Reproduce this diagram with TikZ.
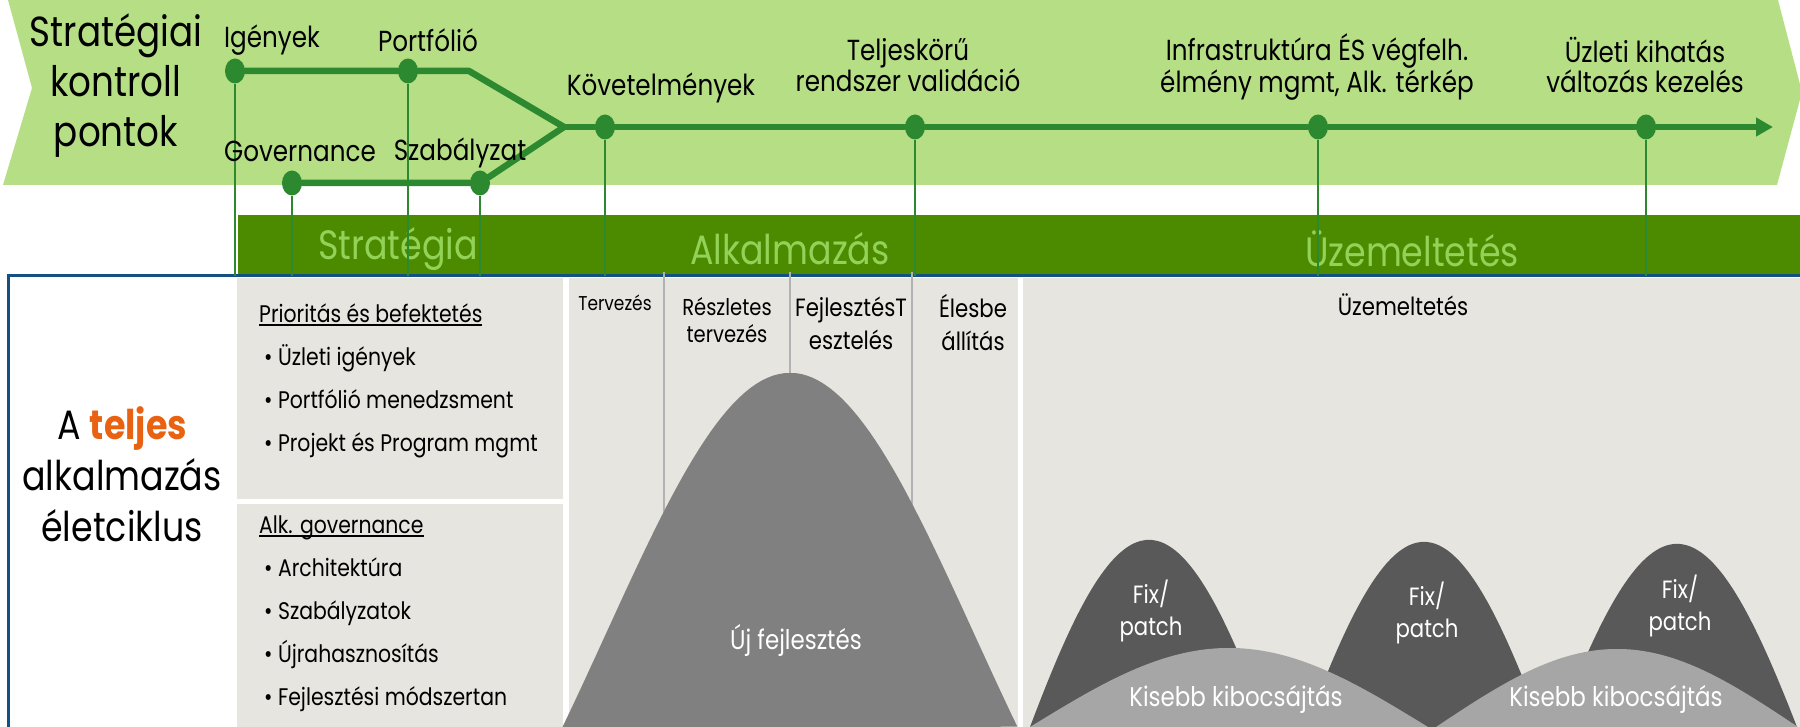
\documentclass[tikz,border=0pt]{standalone}
\usepackage{fontspec}
\setmainfont{Poppins}[FakeStretch=0.85]
\usetikzlibrary{arrows.meta,shapes.geometric}
\definecolor{bandlight}{RGB}{181,222,133}
\definecolor{tlgreen}{RGB}{45,137,47}
\definecolor{banddark}{RGB}{76,139,0}
\definecolor{bandtext}{RGB}{146,210,88}
\definecolor{blueln}{RGB}{20,80,130}
\definecolor{panelgray}{RGB}{230,229,224}
\definecolor{divgray}{RGB}{178,178,178}
\definecolor{bigbell}{RGB}{128,128,128}
\definecolor{darkbell}{RGB}{89,89,89}
\definecolor{lightbell}{RGB}{166,166,166}
\definecolor{orangeT}{RGB}{232,98,18}
\newcommand\myul[1]{\setbox0\hbox{#1}\rlap{\rule[-4pt]{\wd0}{2pt}}\box0}
\newcommand\mybell[5]{%
  \pgfmathsetmacro\bellg{exp(-1/#5)}%
  \fill[#1] plot[domain=-1:1,samples=81] ({#2+#3*\x},{727-#4*(exp(-\x*\x/#5)-\bellg)/(1-\bellg)}) -- cycle;}
\begin{document}
\begin{tikzpicture}[x=1pt,y=-1pt,
  dot/.style={ellipse, fill=tlgreen, minimum width=20pt, minimum height=25pt, inner sep=0pt},
  tl/.style={draw=tlgreen, line width=6.5pt, line cap=round, line join=round},
  vl/.style={draw=tlgreen, line width=2.5pt},
  divider/.style={draw=divgray, line width=2.5pt},
  tlbl/.style={font=\fontsize{29}{30}\selectfont, align=center, inner sep=0pt},
  titlelbl/.style={font=\fontsize{42}{50}\selectfont, align=center, inner sep=0pt},
  bandlbl/.style={font=\fontsize{41}{42}\selectfont, text=bandtext, inner sep=0pt},
  listlbl/.style={font=\fontsize{24}{43}\selectfont, align=left, inner sep=0pt, anchor=north west},
  bigtxt/.style={font=\fontsize{41}{51}\selectfont, align=center, inner sep=0pt},
  phaselbl/.style={align=center, inner sep=0pt},
  belltxt/.style={font=\fontsize{25}{32}\selectfont, text=white, align=center, inner sep=0pt}]
\useasboundingbox (0,0) rectangle (1800,727);
\begin{scope}
\clip (0,0) rectangle (1800,727);
% top chevron band
\fill[bandlight] (8,0) -- (1778,0) -- (1802,92) -- (1777,185) -- (3,185) -- (32,88) -- cycle;
% dark phase band
\fill[banddark] (238,215) rectangle (1800,275);
\node[bandlbl] (strat) at (398,249) {Stratégia};
\node[bandlbl] (alk) at (790,249) {Alkalmazás};
\node[bandlbl] (uzem) at (1412,249) {Üzemeltetés};
% panels
\fill[panelgray] (237,278) rectangle (563,499);
\fill[panelgray] (237,504) rectangle (563,727);
\fill[panelgray] (569,278) rectangle (1018,727);
\fill[panelgray] (1023,278) rectangle (1800,727);
% blue frame
\draw[blueln, line width=3pt] (8.5,727) -- (8.5,276) -- (1800,276);
% dividers
\draw[divider] (664,272) -- (664,600);
\draw[divider] (790,272) -- (790,450);
\draw[divider] (912,272) -- (912,600);
% bells
\mybell{bigbell}{790}{227.5}{354}{1.31}
\mybell{darkbell}{1149}{119}{187}{3}
\mybell{darkbell}{1424}{118}{185}{3}
\mybell{darkbell}{1677}{120}{183}{3}
\mybell{lightbell}{1229}{199}{79}{2}
\mybell{lightbell}{1617}{181}{78}{2}
% dots
\node[dot] (igeny) at (235,71) {};
\node[dot] (portf) at (408,71) {};
\node[dot] (gov) at (292,183) {};
\node[dot] (szab) at (480,183) {};
\node[dot] (kovet) at (605,127) {};
\node[dot] (telj) at (915,127) {};
\node[dot] (infra) at (1318,127) {};
\node[dot] (uzl) at (1646,127) {};
\coordinate (bend) at (469,71);
\coordinate (merge) at (564,127);
\coordinate (tip) at (1773,127);
\coordinate (base) at (0,276);
% verticals
\foreach \n in {igeny,portf,gov,szab,kovet,telj,infra,uzl}
  \draw[vl] (\n.south) -- (\n |- base);
% timeline
\draw[tl] (igeny) -- (portf) -- (bend) -- (merge);
\draw[tl] (gov) -- (szab) -- (merge);
\draw[tl, -{Triangle[length=17pt,width=18pt]}] (merge) -- (kovet) -- (telj) -- (infra) -- (uzl) -- (tip);
% top labels
\node[titlelbl] (ltitle) at (116,86) {Stratégiai\\kontroll\\pontok};
\node[tlbl] (lig) at (272,40) {Igények};
\node[tlbl] (lport) at (428,40) {Portfólió};
\node[tlbl] (lgov) at (300,151) {Governance};
\node[tlbl] (lszab) at (460,153) {Szabályzat};
\node[tlbl] (lkov) at (661,88) {Követelmények};
\node[tlbl] (ltelj) at (908,65) {Teljeskörű\\rendszer validáció};
\node[tlbl] (linfra) at (1317,67) {Infrastruktúra ÉS végfelh.\\élmény mgmt, Alk. térkép};
\node[tlbl] (luzl) at (1645,65) {Üzleti kihatás\\változás kezelés};
% left title
\node[bigtxt] (lcycle) at (122,474) {A {\bfseries\color{orangeT}teljes}\\alkalmazás\\életciklus};
% panel lists
\node[listlbl] (p1) at (259,303.5) {\myul{Prioritás és befektetés}\\\hspace*{5pt}•~Üzleti igények\\\hspace*{5pt}•~Portfólió menedzsment\\\hspace*{5pt}•~Projekt és Program mgmt};
\node[listlbl] (p2) at (259,515.5) {\myul{Alk. governance}\\\hspace*{5pt}•~Architektúra\\\hspace*{5pt}•~Szabályzatok\\\hspace*{5pt}•~Újrahasznosítás\\\hspace*{5pt}•~Fejlesztési módszertan};
% phase labels
\node[phaselbl, font=\fontsize{20}{24}\selectfont] (ph1) at (615,303) {Tervezés};
\node[phaselbl, font=\fontsize{23}{27}\selectfont] (ph2) at (727,320) {Részletes\\tervezés};
\node[phaselbl, font=\fontsize{25}{33}\selectfont] (ph3) at (851,323) {FejlesztésT\\esztelés};
\node[phaselbl, font=\fontsize{25}{33}\selectfont] (ph4) at (973,323) {Élesbe\\állítás};
\node[phaselbl, font=\fontsize{25}{27}\selectfont] (ph5) at (1403,305) {Üzemeltetés};
% bell labels
\node[belltxt, font=\fontsize{27}{30}\selectfont] (uj) at (796,640) {Új fejlesztés};
\node[belltxt] (fix1) at (1151,611) {Fix/\\patch};
\node[belltxt] (fix2) at (1427,613) {Fix/\\patch};
\node[belltxt] (fix3) at (1680,606) {Fix/\\patch};
\node[belltxt, font=\fontsize{27}{30}\selectfont] (kis1) at (1236,699) {Kisebb kibocsájtás};
\node[belltxt, font=\fontsize{27}{30}\selectfont] (kis2) at (1616,699) {Kisebb kibocsájtás};
\end{scope}
\end{tikzpicture}
\end{document}
